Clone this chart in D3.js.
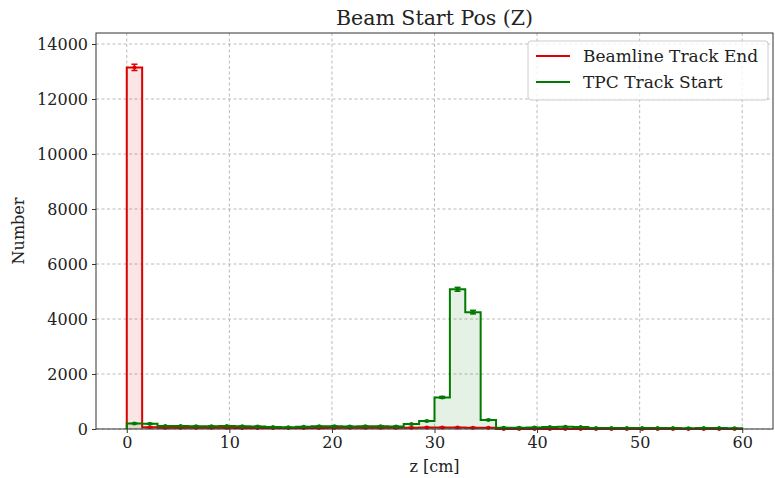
<!DOCTYPE html>
<html>
<head>
<meta charset="utf-8">
<script src="https://cdn.jsdelivr.net/npm/d3@7"></script>
<style>
  html, body { margin: 0; padding: 0; background: #fff; }
  svg text { font-family: "DejaVu Serif", "Liberation Serif", serif; fill: #222; }
</style>
</head>
<body>
<svg id="chart" width="775" height="478"></svg>
<script>
// Histogram bins: 40 bins of width 1.5 cm from 0 to 60
const binEdges = d3.range(0, 60.0001, 1.5);

// Beamline track end positions (counts per bin)
const beamlineEnd = [
  13150, 60, 50, 50, 45, 45, 45, 40, 40, 40,
  40, 40, 40, 45, 45, 45, 45, 45, 50, 55,
  55, 55, 50, 45, 0, 0, 0, 0, 0, 0,
  0, 0, 0, 0, 0, 0, 0, 0, 0, 0
];

// TPC track start positions (counts per bin)
const tpcStart = [
  200, 190, 110, 105, 100, 100, 105, 100, 95, 70,
  65, 80, 100, 100, 95, 100, 100, 95, 180, 290,
  1150, 5080, 4250, 330, 50, 50, 55, 75, 80, 70,
  40, 40, 35, 35, 35, 35, 30, 35, 35, 30
];

const seriesNames = ["Beamline Track End", "TPC Track Start"];
const seriesColors = ["#dd0000", "#007a00"];
const xTicks = [0, 10, 20, 30, 40, 50, 60];
const yTicks = [0, 2000, 4000, 6000, 8000, 10000, 12000, 14000];

const svg = d3.select("#chart");
const m = { left: 96, right: 2, top: 33, bottom: 49 };
const W = 775, H = 478;
const iw = W - m.left - m.right, ih = H - m.top - m.bottom;

const x = d3.scaleLinear().domain([-3, 63]).range([m.left, m.left + iw]);
const y = d3.scaleLinear().domain([0, 14400]).range([m.top + ih, m.top]);

// grid
const grid = svg.append("g");
grid.selectAll(".gx").data(xTicks).enter().append("line")
  .attr("x1", d => x(d)).attr("x2", d => x(d))
  .attr("y1", m.top).attr("y2", m.top + ih)
  .attr("stroke", "#a8a8a8").attr("stroke-width", 0.8).attr("stroke-dasharray", "3,2.5");
grid.selectAll(".gy").data(yTicks).enter().append("line")
  .attr("x1", m.left).attr("x2", m.left + iw)
  .attr("y1", d => y(d)).attr("y2", d => y(d))
  .attr("stroke", "#a8a8a8").attr("stroke-width", 0.8).attr("stroke-dasharray", "3,2.5");

// histograms
const series = [beamlineEnd, tpcStart];
const plot = svg.append("g");
series.forEach((vals, si) => {
  const col = seriesColors[si];
  const pts = [];
  vals.forEach((v, i) => {
    pts.push([binEdges[i], v]);
    pts.push([binEdges[i + 1], v]);
  });
  const area = d3.area().x(d => x(d[0])).y0(y(0)).y1(d => y(d[1]));
  const line = d3.line().x(d => x(d[0])).y(d => y(d[1]));
  const full = [[0, 0]].concat(pts).concat([[60, 0]]);
  plot.append("path").attr("d", area(pts)).attr("fill", col).attr("fill-opacity", 0.1);
  plot.append("path").attr("d", line(full)).attr("fill", "none")
    .attr("stroke", col).attr("stroke-width", 2).attr("stroke-linejoin", "miter");
});
// error bars and markers
series.forEach((vals, si) => {
  const col = seriesColors[si];
  const g = plot.append("g");
  vals.forEach((v, i) => {
    const cx = x((binEdges[i] + binEdges[i + 1]) / 2);
    const e = Math.sqrt(v);
    g.append("line").attr("x1", cx).attr("x2", cx)
      .attr("y1", y(v - e)).attr("y2", y(v + e)).attr("stroke", col).attr("stroke-width", 1.5);
    [v - e, v + e].forEach(t => g.append("line")
      .attr("x1", cx - 3).attr("x2", cx + 3).attr("y1", y(t)).attr("y2", y(t))
      .attr("stroke", col).attr("stroke-width", 1.5));
    g.append("circle").attr("cx", cx).attr("cy", y(v)).attr("r", 2).attr("fill", col);
  });
});

// frame
svg.append("rect").attr("x", m.left).attr("y", m.top).attr("width", iw).attr("height", ih)
  .attr("fill", "none").attr("stroke", "#333").attr("stroke-width", 1);

// axes
const xAxis = svg.append("g").attr("transform", `translate(0,${m.top + ih})`)
  .call(d3.axisBottom(x).tickValues(xTicks).tickSize(4).tickPadding(4));
const yAxis = svg.append("g").attr("transform", `translate(${m.left},0)`)
  .call(d3.axisLeft(y).tickValues(yTicks).tickSize(4).tickPadding(4).tickFormat(d3.format("d")));
[xAxis, yAxis].forEach(a => {
  a.select(".domain").remove();
  a.selectAll(".tick line").attr("stroke", "#333");
  a.selectAll("text").attr("font-size", 16).attr("fill", "#222")
    .style("font-family", "'DejaVu Serif', serif");
});

// labels
svg.append("text").attr("x", m.left + iw / 2).attr("y", 25).attr("text-anchor", "middle")
  .attr("font-size", 20.5).text("Beam Start Pos (Z)");
svg.append("text").attr("x", m.left + iw / 2).attr("y", 472).attr("text-anchor", "middle")
  .attr("font-size", 16).text("z [cm]");
svg.append("text").attr("transform", `translate(24,${m.top + ih / 2}) rotate(-90)`)
  .attr("text-anchor", "middle").attr("font-size", 16).text("Number");

// legend
const lg = svg.append("g").attr("transform", "translate(528,41)");
lg.append("rect").attr("width", 240).attr("height", 59).attr("rx", 3)
  .attr("fill", "#fff").attr("fill-opacity", 0.8).attr("stroke", "#ccc");
seriesNames.forEach((n, i) => {
  const yy = 15 + i * 26;
  lg.append("line").attr("x1", 8).attr("x2", 42).attr("y1", yy).attr("y2", yy)
    .attr("stroke", seriesColors[i]).attr("stroke-width", 2);
  lg.append("text").attr("x", 55).attr("y", yy + 6).attr("font-size", 17).text(n);
});
</script>
</body>
</html>
